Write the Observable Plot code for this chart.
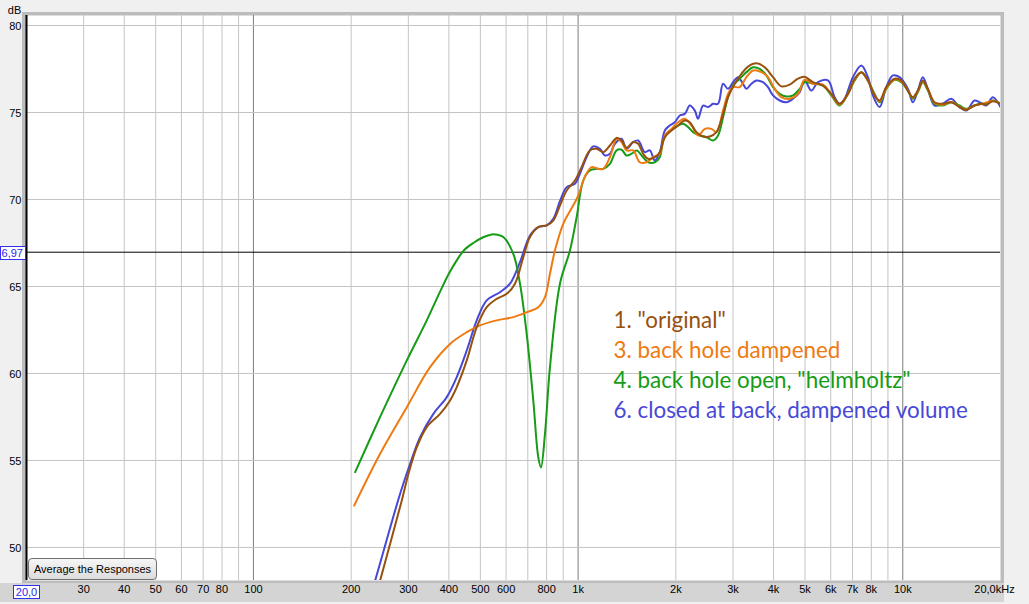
<!DOCTYPE html>
<html><head><meta charset="utf-8">
<script src="https://cdn.jsdelivr.net/npm/d3@7"></script>
<script src="https://cdn.jsdelivr.net/npm/@observablehq/plot@0.6"></script>
<style>
html,body{margin:0;padding:0;background:#f0f0f0;width:1029px;height:604px;overflow:hidden;font-family:"Liberation Sans",Arial,sans-serif;}
#wrap{position:relative;width:1029px;height:604px;}
#band{position:absolute;left:0;top:583px;width:1004px;height:19px;background:#d4d4d4;}
#frame{position:absolute;left:22px;top:12px;width:982px;height:571px;background:#bcbcbc;}
#chart{position:absolute;left:0;top:0;}
.box{position:absolute;border:1px solid #3030f0;background:#fff;color:#2828e8;font-size:11px;line-height:12px;text-align:center;box-sizing:border-box;}
#avg{position:absolute;left:28px;top:558px;width:129px;height:22px;border:1px solid #707070;border-radius:4px;background:linear-gradient(#f6f6f6,#dcdcdc);font:11px "Liberation Sans",Arial,sans-serif;color:#000;padding:0;box-sizing:border-box;}
</style></head>
<body><div id="wrap"><div id="band"></div><div id="frame"></div><div id="chart"></div>
<div class="box" style="left:13px;top:585px;width:27px;height:14px;">20,0</div>
<div class="box" style="left:0px;top:246px;width:26px;height:14px;text-align:right;padding-right:2px;">6,97</div>
<button id="avg">Average the Responses</button>
</div>
<script>
// ---- data (frequency in Hz, level in dB) ----
const seriesNames = ['1. "original"', '3. back hole dampened', '4. back hole open, "helmholtz"', '6. closed at back, dampened volume'];
const seriesColors = ["#97510f", "#ee7a10", "#169c16", "#4848d8"];

const originalHz = [228.8,245.6,286.4,300.2,318.6,341.9,375.7,403.3,422.9,454,487.3,523,561.5,602.7,639.2,677.9,710.9,753.9,800.2,838.5,879.2,922,977.8,1025,1087,1140,1195,1253,1314,1361,1410,1478,1531,1586,1643,1723,1785,1850,1940,2032,2131,2208,2315,2426,2544,2668,2796,2896,3037,3185,3337,3542,3757,3984,4228,4484,4756,4987,5289,5678,6026,6390,6778,7107,7453,7809,8189,8484,8897,9436,9895,10368,10743,11130,11531,11947,12528,13286,14101,14955,15682,16632,17639,18069,18934,20000];
const originalDb = [45.97,48.1,52.7,54.23,55.77,56.92,57.68,58.45,59.22,60.75,62.66,63.81,64.29,64.58,65.16,66.68,67.84,68.41,68.51,68.79,69.65,70.52,71.09,71.86,72.82,72.91,72.72,73.1,73.54,73.39,72.97,73.3,73.2,72.63,72.34,72.43,72.72,73.58,73.97,74.25,74.54,74.44,73.87,73.62,73.62,73.87,74.92,75.88,76.65,77.22,77.64,77.83,77.6,77.03,76.5,76.6,76.95,77.05,76.74,76.55,76.07,75.5,76.07,76.94,77.32,76.84,75.98,75.69,76.46,76.94,76.84,76.26,75.88,76.26,76.84,76.36,75.59,75.5,75.59,75.31,75.15,75.4,75.5,75.45,75.65,75.5];

const dampenedHz = [204.3,245.6,296.8,350,403.3,454,498.8,561.5,631.6,694.4,753.9,790.6,819.1,848.6,900,955.2,1000,1049,1100,1153,1195,1253,1314,1361,1410,1478,1549,1625,1703,1785,1850,1940,2032,2131,2235,2342,2456,2575,2668,2796,2896,3001,3146,3300,3458,3670,3845,4032,4228,4484,4756,4987,5289,5678,6026,6390,6778,7107,7453,7809,8189,8484,8897,9436,9895,10368,10743,11130,11531,11947,12528,13286,14101,14955,15682,16632,17639,18934,20000];
const dampenedDb = [52.4,55.38,58.06,60.36,61.7,62.37,62.76,63.05,63.24,63.52,63.81,64.39,65.73,67.07,68.6,69.5,70.2,71.3,71.86,71.76,71.76,72.43,73.49,73.3,72.82,72.82,72.14,72.14,72.43,72.63,73.68,74.06,74.44,74.64,74.25,73.68,74.06,74.06,73.87,75.11,76.07,76.46,76.46,77.03,77.41,77.32,77.03,76.36,75.88,75.79,76.07,76.88,76.65,76.6,76.05,75.45,76.07,76.9,77.3,76.84,76.0,75.65,76.4,76.9,76.8,76.26,75.85,76.22,76.8,76.32,75.55,75.45,75.6,75.33,75.17,75.4,75.5,75.67,75.5];

const helmholtzHz = [205.7,245.6,296.8,341.9,375.7,399,422.9,446,475.7,510,542,565,588.4,631.6,662.2,694.4,727.7,753.9,768.5,790.6,819.1,879.2,943.8,989.6,1037,1087,1140,1195,1253,1314,1361,1410,1461,1514,1586,1643,1723,1785,1828,1893,1962,2032,2106,2182,2260,2370,2485,2604,2698,2796,2896,3001,3146,3300,3458,3625,3802,3984,4178,4381,4591,4814,4987,5289,5678,6026,6390,6778,7107,7453,7809,8189,8484,8897,9436,9895,10368,10743,11130,11531,11947,12528,13286,14101,14955,15682,16632,17231,18069,18934,20000];
const helmholtzDb = [54.33,57.5,60.75,63.05,64.7,65.7,66.5,67.1,67.5,67.83,67.99,67.97,67.84,66.88,65.16,62.28,58.45,55.19,54.6,56.53,60.36,65.16,67.07,68.98,71.09,71.67,71.76,71.76,72.05,72.82,72.86,72.53,72.63,72.82,72.43,72.14,72.14,72.43,73.39,73.87,74.06,74.25,74.35,74.16,73.87,73.68,73.58,73.39,73.68,74.73,75.88,76.55,76.94,77.32,77.6,77.51,77.13,76.46,76.07,75.92,75.98,76.36,76.74,76.65,76.55,75.98,75.4,76.07,76.84,77.32,76.84,76.07,75.59,76.36,76.88,76.74,76.26,75.79,76.17,76.74,76.26,75.5,75.4,75.59,75.4,75.21,75.4,75.5,75.5,75.69,75.5];

const closedHz = [219.3,237.1,283,303.8,326.1,358.3,394,422.9,454,487.3,523,574.8,617,662.2,710.9,753.9,800.2,838.5,879.2,922,977.8,1013,1062,1113,1167,1209,1253,1298,1361,1410,1478,1531,1605,1663,1723,1785,1850,1916,1985,2057,2131,2208,2288,2342,2426,2514,2604,2698,2796,2896,3001,3109,3221,3300,3418,3542,3711,3845,3984,4178,4381,4591,4814,4987,5230,5480,5883,6168,6390,6621,7022,7453,7809,8091,8484,8897,9323,9776,10368,10743,11130,11531,11947,12528,13286,14101,14955,15682,16632,17231,18069,18934,20000];
const closedDb = [45.97,48.1,53.09,54.81,56.34,57.68,58.64,59.79,61.32,63.05,64.2,64.67,65.16,66.4,67.93,68.41,68.51,68.89,69.9,70.71,70.9,71.48,72.43,73.05,72.91,72.53,72.63,73.2,73.49,72.91,73.3,73.39,72.72,72.82,72.24,72.72,73.97,74.25,74.44,74.83,74.92,75.4,75.11,74.64,75.4,75.31,75.5,75.5,76.65,76.36,76.74,77.03,76.65,76.36,76.65,76.84,76.74,76.46,75.98,75.69,75.59,75.79,76.17,76.84,76.26,76.74,76.84,75.88,75.5,75.79,77.03,77.7,77.03,75.98,75.31,76.46,77.13,77.03,76.36,75.59,76.26,77.03,76.36,75.4,75.5,75.79,75.31,75.11,75.69,75.59,75.4,75.88,75.31];

// axis / grid values
const xLabelTicks = [30,40,50,60,70,80,100,200,300,400,500,600,800,1000,2000,3000,4000,5000,6000,7000,8000,10000];
const xMinorGrid = [30,40,50,60,70,80,90,200,300,400,500,600,700,800,900,2000,3000,4000,5000,6000,7000,8000,9000];
const xDecadeGrid = [100,1000,10000];
const yTicks = [50,55,60,65,70,75,80];
const refLevel = 66.97;
const xEndLabel = [20000];

const toRows = (hz, db) => hz.map((f, i) => ({f, db: db[i]}));
const curves = [
  {rows: toRows(closedHz, closedDb), color: seriesColors[3]},
  {rows: toRows(helmholtzHz, helmholtzDb), color: seriesColors[2]},
  {rows: toRows(dampenedHz, dampenedDb), color: seriesColors[1]},
  {rows: toRows(originalHz, originalDb), color: seriesColors[0]}
];

const fmtX = f => f >= 1000 ? (f / 1000) + "k" : String(f);

const chart = Plot.plot({
  width: 1029, height: 604,
  marginLeft: 26, marginRight: 29, marginTop: 15, marginBottom: 24,
  style: {background: "transparent", fontFamily: "'Liberation Sans', Arial, sans-serif", fontSize: "11px", color: "#000"},
  x: {type: "log", domain: [20, 20000], axis: null},
  y: {domain: [48.1, 80.575], axis: null},
  marks: [
    Plot.frame({fill: "white", stroke: null}),
    Plot.gridX(xMinorGrid, {stroke: "#c4c4c4", strokeOpacity: 1}),
    Plot.gridX(xDecadeGrid, {stroke: "#7c7c7c", strokeOpacity: 1}),
    Plot.gridY(yTicks, {stroke: "#c4c4c4", strokeOpacity: 1}),
    Plot.ruleY([refLevel], {stroke: "#000", strokeWidth: 1}),
    Plot.ruleX([20], {stroke: "#000", strokeWidth: 2}),
    ...curves.map(c => Plot.line(c.rows, {x: "f", y: "db", stroke: c.color, strokeWidth: 2, curve: "catmull-rom", clip: true})),
    Plot.text(xLabelTicks, {x: d => d, frameAnchor: "bottom", dy: 12, text: fmtX, fontSize: 11, fill: "#000"}),
    Plot.text(xEndLabel, {x: d => d, frameAnchor: "bottom", dx: -6, dy: 12, text: () => "20,0kHz", fontSize: 11, fill: "#000"}),
    Plot.axisY(yTicks, {anchor: "left", tickSize: 0, tickPadding: 5, label: null, fontSize: 11, dy: 1}),
    Plot.text(["dB"], {frameAnchor: "top-left", dx: -12, dy: -9, fontSize: 11, textAnchor: "middle"}),
    ...seriesNames.map((name, i) => Plot.text([name], {
      frameAnchor: "top-left", dx: 587, dy: 297 + i * 30, textAnchor: "start",
      fill: seriesColors[i], fontSize: 22.4, fontFamily: "Lato, 'Open Sans', sans-serif"
    }))
  ]
});
document.getElementById("chart").appendChild(chart);
</script>
</body></html>
